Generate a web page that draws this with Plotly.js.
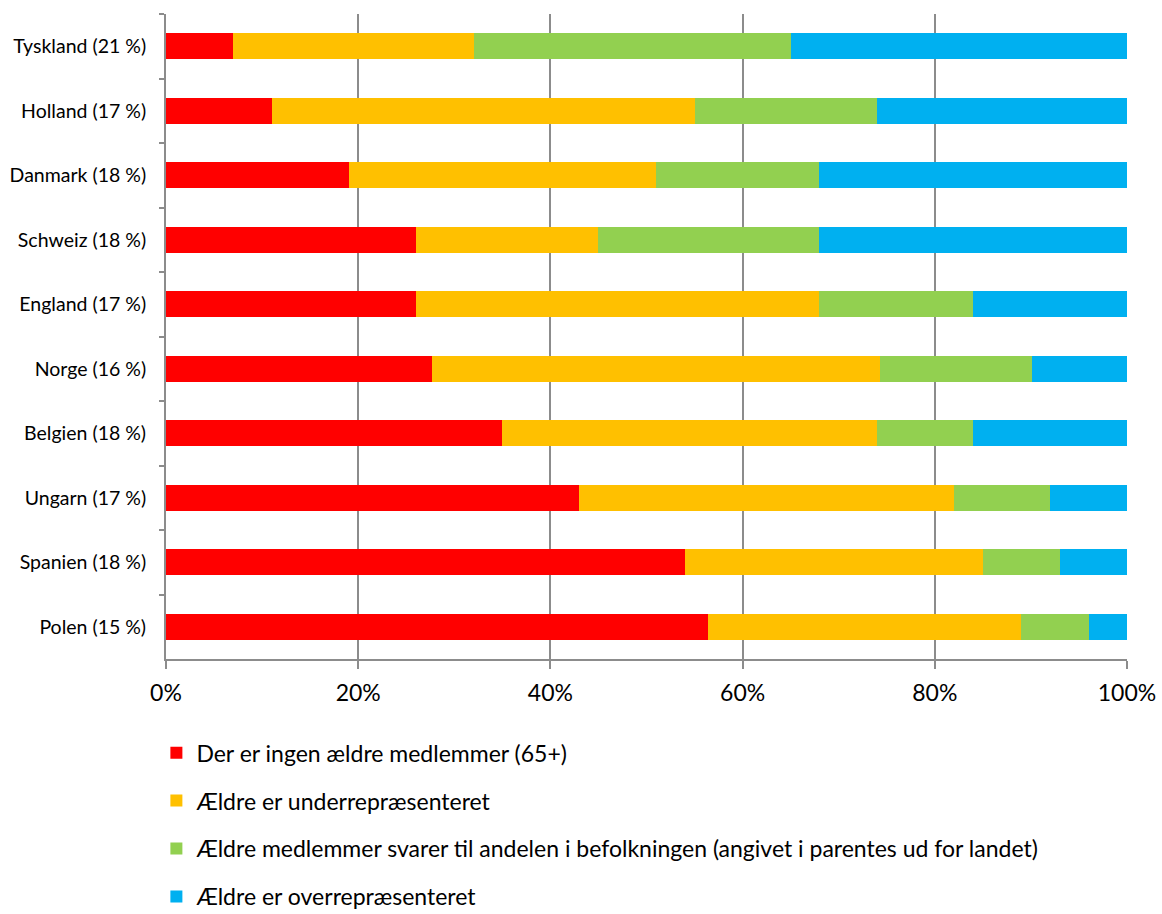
<!DOCTYPE html>
<html>
<head>
<meta charset="utf-8">
<script src="https://cdn.plot.ly/plotly-3.0.1.min.js"></script>
<style>html,body{margin:0;padding:0;background:#fff;}#chart{width:1162px;height:914px;}</style>
</head>
<body>
<div id="chart"></div>
<script>
const countries = ["Tyskland (21 %)", "Holland (17 %)", "Danmark (18 %)", "Schweiz (18 %)", "England (17 %)", "Norge (16 %)", "Belgien (18 %)", "Ungarn (17 %)", "Spanien (18 %)", "Polen (15 %)"];
const ingenAeldre = [7, 11, 19, 26, 26, 27.7, 35, 43, 54, 56.4];
const underrep = [25, 44, 32, 19, 42, 46.6, 39, 39, 31, 32.6];
const svarer = [33, 19, 17, 23, 16, 15.8, 10, 10, 8, 7];
const overrep = [35, 26, 32, 32, 16, 9.9, 16, 8, 7, 4];
const seriesNames = ["Der er ingen ældre medlemmer (65+)", "Ældre er underrepræsenteret", "Ældre medlemmer svarer til andelen i befolkningen (angivet i parentes ud for landet)", "Ældre er overrepræsenteret"];
const colors = ["#FF0000", "#FFC000", "#92D050", "#00B0F0"];
const xTickVals = [0, 20, 40, 60, 80, 100];
const xTickText = ["0%", "20%", "40%", "60%", "80%", "100%"];

const seriesValues = [ingenAeldre, underrep, svarer, overrep];
const traces = seriesValues.map((vals, i) => ({
  type: "bar",
  orientation: "h",
  y: countries,
  x: vals,
  name: seriesNames[i],
  legendgroup: "g" + i,
  marker: {color: colors[i], line: {width: 0}},
  hoverinfo: "x+y"
}));

const font = "Lato, 'Open Sans', 'DejaVu Sans', sans-serif";
const layout = {
  width: 1162, height: 914,
  margin: {l: 166, r: 35, t: 14, b: 255, autoexpand: false},
  paper_bgcolor: "#fff", plot_bgcolor: "#fff",
  barmode: "stack",
  bargap: 0.6,
  font: {family: font, color: "#000"},
  xaxis: {
    range: [0, 100],
    tickvals: xTickVals, ticktext: xTickText,
    tickfont: {size: 23, color: "#000"},
    showgrid: true, gridcolor: "#8c8c8c", gridwidth: 2,
    zeroline: false,
    showline: true, linecolor: "#8c8c8c", linewidth: 2,
    ticks: "outside", ticklen: 8, tickwidth: 2, tickcolor: "#8c8c8c",
    ticklabelstandoff: 4,
    automargin: false,
    fixedrange: true
  },
  yaxis: {
    categoryorder: "array", categoryarray: countries,
    autorange: "reversed",
    tickfont: {size: 19.5, color: "#000"},
    showgrid: false, zeroline: false,
    showline: true, linecolor: "#8c8c8c", linewidth: 2,
    ticks: "outside", tickson: "boundaries", ticklen: 5, tickwidth: 2, tickcolor: "#8c8c8c",
    ticklabelstandoff: 14,
    automargin: false,
    fixedrange: true
  },
  showlegend: true,
  legend: {
    orientation: "v",
    x: -0.01, xanchor: "left",
    y: -0.112, yanchor: "top",
    traceorder: "grouped",
    tracegroupgap: 15,
    font: {size: 23, color: "#000"},
    itemwidth: 30,
    bgcolor: "rgba(0,0,0,0)"
  }
};

Plotly.newPlot("chart", traces, layout, {displayModeBar: false, staticPlot: true});
</script>
</body>
</html>
